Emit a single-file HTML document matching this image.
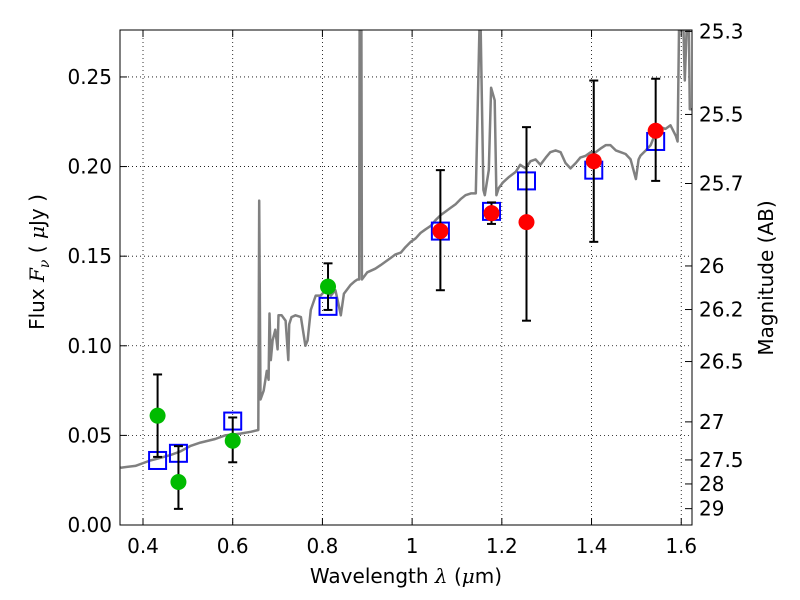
<!DOCTYPE html>
<html><head><meta charset="utf-8"><style>
body{margin:0;background:#fff;}
svg{display:block;font-family:"DejaVu Sans","Liberation Sans",sans-serif;}
</style></head><body>
<svg id="chart" width="800" height="600" viewBox="0 0 800 600" xmlns="http://www.w3.org/2000/svg"></svg>
<script>
const specLam=[0.35,0.383,0.416,0.432,0.461,0.483,0.505,0.528,0.561,0.583,0.617,0.640,0.657,0.659,0.662,0.669,0.676,0.680,0.682,0.685,0.689,0.695,0.700,0.702,0.709,0.718,0.724,0.726,0.731,0.740,0.752,0.762,0.767,0.774,0.785,0.796,0.807,0.819,0.829,0.836,0.841,0.848,0.863,0.872,0.878,0.882,0.883,0.887,0.888,0.900,0.918,0.930,0.941,0.952,0.963,0.975,0.985,0.997,1.008,1.019,1.030,1.042,1.052,1.064,1.075,1.086,1.097,1.109,1.119,1.131,1.142,1.150,1.153,1.159,1.162,1.171,1.176,1.184,1.188,1.193,1.202,1.215,1.231,1.241,1.253,1.264,1.275,1.286,1.298,1.308,1.320,1.331,1.342,1.353,1.365,1.375,1.387,1.398,1.409,1.420,1.432,1.442,1.454,1.465,1.476,1.487,1.499,1.505,1.509,1.521,1.532,1.543,1.554,1.565,1.576,1.588,1.592,1.595,1.605,1.608,1.612,1.617,1.619,1.625];
const specFlux=[0.032,0.033,0.036,0.037,0.039,0.041,0.044,0.046,0.048,0.050,0.051,0.052,0.053,0.181,0.070,0.075,0.086,0.081,0.118,0.092,0.103,0.109,0.098,0.117,0.117,0.114,0.092,0.112,0.116,0.117,0.116,0.100,0.103,0.120,0.128,0.128,0.131,0.128,0.131,0.123,0.117,0.129,0.134,0.136,0.137,0.137,0.276,0.276,0.137,0.141,0.143,0.145,0.147,0.149,0.151,0.152,0.155,0.158,0.160,0.163,0.165,0.167,0.170,0.173,0.175,0.177,0.179,0.182,0.184,0.185,0.185,0.276,0.276,0.187,0.184,0.198,0.244,0.237,0.184,0.188,0.191,0.194,0.197,0.201,0.199,0.203,0.204,0.201,0.205,0.208,0.209,0.208,0.202,0.199,0.202,0.205,0.206,0.208,0.208,0.210,0.212,0.212,0.209,0.208,0.207,0.204,0.193,0.204,0.206,0.209,0.212,0.219,0.222,0.221,0.223,0.217,0.214,0.276,0.276,0.248,0.276,0.276,0.232,0.232];
const greenLam=[0.4325,0.479,0.60,0.8125];
const greenFlux=[0.061,0.024,0.047,0.133];
const greenHi=[0.084,0.044,0.060,0.146];
const greenLo=[0.038,0.009,0.035,0.120];
const redLam=[1.063,1.177,1.255,1.405,1.543];
const redFlux=[0.164,0.174,0.169,0.203,0.220];
const redHi=[0.198,0.180,0.222,0.248,0.249];
const redLo=[0.131,0.168,0.114,0.158,0.192];
const blueLam=[0.4325,0.479,0.60,0.8125,1.063,1.177,1.255,1.405,1.543];
const blueFlux=[0.036,0.040,0.058,0.122,0.164,0.175,0.192,0.198,0.214];
const xTicks=[0.4,0.6,0.8,1.0,1.2,1.4,1.6];
const xTickLabels=["0.4","0.6","0.8","1","1.2","1.4","1.6"];
const yTicks=[0,0.05,0.10,0.15,0.20,0.25];
const yTickLabels=["0.00","0.05","0.10","0.15","0.20","0.25"];
const magTicks=[25.3,25.5,25.7,26,26.2,26.5,27,27.5,28,29];
const magTickLabels=["25.3","25.5","25.7","26","26.2","26.5","27","27.5","28","29"];

const L=120,R=692,T=30,B=525;
const xMin=0.3487,xMax=1.6240,yMin=0,yMax=0.2762;
const X=v=>L+(v-xMin)/(xMax-xMin)*(R-L);
const Y=v=>B-(v-yMin)/(yMax-yMin)*(B-T);
const svg=document.getElementById('chart');
const NS='http://www.w3.org/2000/svg';
function mk(tag,attrs,parent){const e=document.createElementNS(NS,tag);for(const k in attrs)e.setAttribute(k,attrs[k]);(parent||svg).appendChild(e);return e;}

const defs=mk('defs',{});const cp=mk('clipPath',{id:'clip'},defs);mk('rect',{x:L,y:T,width:R-L,height:B-T},cp);

xTicks.forEach(t=>{const g=mk('line',{x1:X(t),x2:X(t),y1:T,y2:B,stroke:'#000','stroke-width':0.8,'stroke-dasharray':'1,3'});

});
yTicks.forEach(t=>{const g=mk('line',{x1:L,x2:R,y1:Y(t),y2:Y(t),stroke:'#000','stroke-width':0.8,'stroke-dasharray':'1,3'});

});

const pts=specLam.map((l,i)=>X(l).toFixed(1)+','+Y(specFlux[i]).toFixed(1)).join(' ');
const sp=mk('polyline',{points:pts,fill:'none',stroke:'#808080','stroke-width':2.5,'clip-path':'url(#clip)','stroke-linejoin':'round'});



blueLam.forEach((l,i)=>{const r=mk('rect',{x:X(l)-8.5,y:Y(blueFlux[i])-8.5,width:17,height:17,fill:'none',stroke:'#0000ff','stroke-width':2});

});

function errs(lams,hi,lo,name){lams.forEach((l,i)=>{const g=mk('g',{stroke:'#000','stroke-width':2});


mk('line',{x1:X(l),x2:X(l),y1:Y(hi[i]),y2:Y(lo[i])},g);
mk('line',{x1:X(l)-4.5,x2:X(l)+4.5,y1:Y(hi[i]),y2:Y(hi[i])},g);
mk('line',{x1:X(l)-4.5,x2:X(l)+4.5,y1:Y(lo[i]),y2:Y(lo[i])},g);});}
errs(greenLam,greenHi,greenLo,'green-error-bar');
errs(redLam,redHi,redLo,'red-error-bar');
greenLam.forEach((l,i)=>{const c=mk('circle',{cx:X(l),cy:Y(greenFlux[i]),r:8,fill:'#00bb00'});

});
redLam.forEach((l,i)=>{const c=mk('circle',{cx:X(l),cy:Y(redFlux[i]),r:8,fill:'#ff0000'});

});

const fr=mk('rect',{x:L,y:T,width:R-L,height:B-T,fill:'none',stroke:'#000','stroke-width':1});



xTicks.forEach((t,i)=>{mk('line',{x1:X(t),x2:X(t),y1:B,y2:B-7,stroke:'#000'});mk('line',{x1:X(t),x2:X(t),y1:T,y2:T+7,stroke:'#000'});
const tx=mk('text',{x:X(t),y:B+28,'text-anchor':'middle','font-size':20});tx.textContent=xTickLabels[i];

});
yTicks.forEach((t,i)=>{mk('line',{x1:L,x2:L+7,y1:Y(t),y2:Y(t),stroke:'#000'});
const tx=mk('text',{x:L-8,y:Y(t)+7,'text-anchor':'end','font-size':20});tx.textContent=yTickLabels[i];

});
magTicks.forEach((m,i)=>{const f=Math.pow(10,-(m-23.9)/2.5);const y=Y(f);
mk('line',{x1:R-7,x2:R,y1:y,y2:y,stroke:'#000'});
const tx=mk('text',{x:R+7,y:y+7,'font-size':20});tx.textContent=magTickLabels[i];

});
</script>
<svg style="position:absolute;left:0;top:0" width="800" height="600">
<text x="406" y="583" text-anchor="middle" font-size="20" font-family="DejaVu Sans, sans-serif">Wavelength  <tspan font-style="italic" font-family="DejaVu Serif, serif">λ</tspan> (<tspan font-style="italic" font-family="DejaVu Serif, serif">μ</tspan>m)</text>
<text transform="translate(44,262) rotate(-90)" text-anchor="middle" font-size="20" font-family="DejaVu Sans, sans-serif">Flux  <tspan font-style="italic" font-family="DejaVu Serif, serif">F<tspan font-size="14" dy="5">ν</tspan></tspan><tspan dy="-5">  (  </tspan><tspan font-style="italic" font-family="DejaVu Serif, serif">μ</tspan>Jy )</text>
<text transform="translate(773,278) rotate(-90)" text-anchor="middle" font-size="20" font-family="DejaVu Sans, sans-serif">Magnitude (AB)</text>
</svg>
</body></html>
